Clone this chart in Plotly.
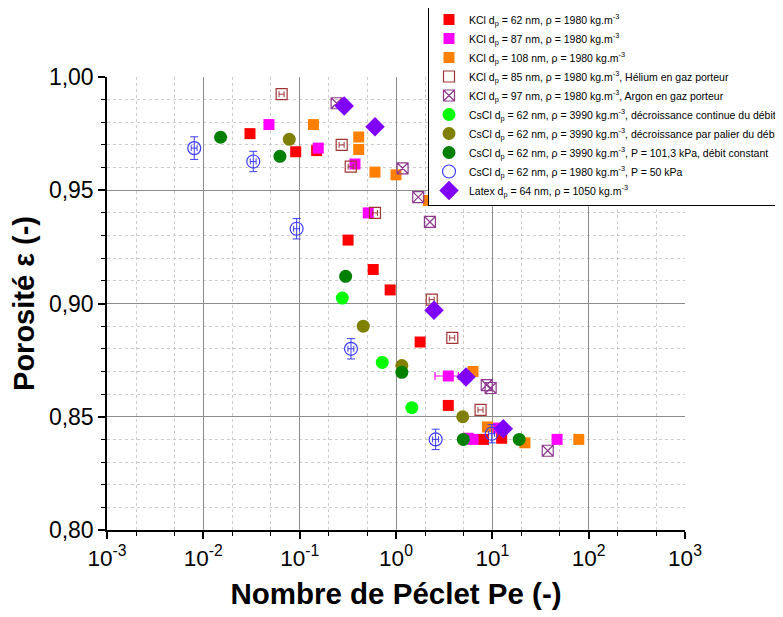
import plotly.graph_objects as go

# ---- data ----
kcl62_x = [0.0305, 0.091, 0.15, 0.318, 0.58, 0.87, 1.78, 3.49, 8.1, 12.5]
kcl62_y = [0.975, 0.967, 0.9675, 0.928, 0.915, 0.906, 0.883, 0.855, 0.840, 0.8405]

kcl87_x = [0.048, 0.156, 0.375, 0.515, 3.49, 5.6, 6.3, 11.5, 47]
kcl87_y = [0.979, 0.9686, 0.9616, 0.940, 0.868, 0.8405, 0.840, 0.845, 0.840]
kcl87_errx = [0, 0, 0, 0, 0.95, 0, 0, 0, 0]

kcl108_x = [0.139, 0.41, 0.41, 0.605, 1.0, 2.17, 6.3, 8.9, 21.8, 79]
kcl108_y = [0.979, 0.9735, 0.968, 0.958, 0.9568, 0.9455, 0.870, 0.8455, 0.8385, 0.840]

he_x = [0.065, 0.273, 0.339, 0.605, 2.35, 3.84, 7.55]
he_y = [0.9924, 0.970, 0.9604, 0.940, 0.9017, 0.8848, 0.853]

ar_x = [0.242, 1.17, 1.7, 2.25, 8.75, 9.6, 37.6]
ar_y = [0.9884, 0.9597, 0.947, 0.936, 0.864, 0.8627, 0.835]

cscl_cont_x = [0.277, 0.72, 1.46]
cscl_cont_y = [0.9024, 0.874, 0.854]

cscl_pal_x = [0.078, 0.457, 1.15, 4.93]
cscl_pal_y = [0.9725, 0.890, 0.8726, 0.850]

cscl_cst_x = [0.0151, 0.0624, 0.30, 1.15, 5.0, 19]
cscl_cst_y = [0.9734, 0.965, 0.912, 0.8696, 0.840, 0.840]

cscl50_x = [0.00805, 0.033, 0.093, 0.341, 2.58, 9.85]
cscl50_y = [0.9686, 0.9627, 0.933, 0.880, 0.840, 0.8425]
cscl50_erry = [0.005, 0.0045, 0.0045, 0.0045, 0.0045, 0.004]

latex_x = [0.29, 0.605, 2.48, 5.33, 13]
latex_y = [0.9872, 0.978, 0.897, 0.8676, 0.8447]

x_tickvals = [1e-3, 1e-2, 1e-1, 1, 10, 100, 1000]
x_ticktext = ["10<sup>-3</sup>", "10<sup>-2</sup>", "10<sup>-1</sup>", "10<sup>0</sup>",
              "10<sup>1</sup>", "10<sup>2</sup>", "10<sup>3</sup>"]
y_tickvals = [0.80, 0.85, 0.90, 0.95, 1.00]
y_ticktext = ["0,80", "0,85", "0,90", "0,95", "1,00"]

KG = "kg.m<sup>-3</sup>"
DP = "d<sub>p</sub>"

fig = go.Figure()

def add(x, y, name, symbol, color, size, open_=False, **kw):
    marker = dict(symbol=symbol, size=size, color=color)
    if open_:
        marker["line"] = dict(color=color, width=1.2)
    else:
        marker["line"] = dict(width=0)
    fig.add_trace(go.Scatter(x=x, y=y, mode="markers", name=name, marker=marker, **kw))

add(kcl62_x, kcl62_y, f"KCl {DP} = 62 nm, ρ = 1980 {KG}", "square", "#FF0000", 11)
add(kcl87_x, kcl87_y, f"KCl {DP} = 87 nm, ρ = 1980 {KG}", "square", "#FF00FF", 11,
    error_x=dict(type="data", array=kcl87_errx, color="#FF00FF", thickness=1.2, width=4))
add(kcl108_x, kcl108_y, f"KCl {DP} = 108 nm, ρ = 1980 {KG}", "square", "#FF8000", 11)
add(he_x, he_y, f"KCl {DP} = 85 nm, ρ = 1980 {KG}, Hélium en gaz porteur", "square-open", "#A03535", 11, open_=True,
    error_x=dict(type="percent", value=6, color="#A03535", thickness=1, width=3))
add(ar_x, ar_y, f"KCl {DP} = 97 nm, ρ = 1980 {KG}, Argon en gaz porteur", "square-x-open", "#8E3A8E", 11, open_=True)
add(cscl_cont_x, cscl_cont_y, f"CsCl {DP} = 62 nm, ρ = 3990 {KG}, décroissance continue du débit", "circle", "#00FF00", 13)
add(cscl_pal_x, cscl_pal_y, f"CsCl {DP} = 62 nm, ρ = 3990 {KG}, décroissance par palier du débit", "circle", "#808000", 13)
add(cscl_cst_x, cscl_cst_y, f"CsCl {DP} = 62 nm, ρ = 3990 {KG}, P = 101,3 kPa, débit constant", "circle", "#008000", 13)
add(cscl50_x, cscl50_y, f"CsCl {DP} = 62 nm, ρ = 1980 {KG}, P = 50 kPa", "circle-open", "#3C3CFF", 13, open_=True,
    error_y=dict(type="data", array=cscl50_erry, color="#3C3CFF", thickness=1, width=4),
    error_x=dict(type="percent", value=7, color="#3C3CFF", thickness=1, width=3))
add(latex_x, latex_y, f"Latex {DP} = 64 nm, ρ = 1050 {KG}", "diamond", "#8000FF", 15)

# page has an 8px body margin: compensate so the plot lands at the reference pixels
ML, MR, MT, MB = 99, 106, 69, 95
PW = 783 - ML - MR
PH = 617 - MT - MB

fig.update_layout(
    width=783, height=617,
    margin=dict(l=ML, r=MR, t=MT, b=MB, autoexpand=False),
    paper_bgcolor="white", plot_bgcolor="white",
    font=dict(family="Arial, Liberation Sans, sans-serif", color="black"),
    legend=dict(
        x=(428 - 8 - ML) / PW, y=1 + (MT + 4) / PH, xanchor="left", yanchor="top",
        bgcolor="white", bordercolor="black", borderwidth=1,
        font=dict(size=10.5, family="Arial, Liberation Sans, sans-serif"),
        tracegroupgap=0,
    ),
)

fig.update_xaxes(
    type="log", range=[-3, 3],
    tickvals=x_tickvals, ticktext=x_ticktext,
    tickfont=dict(size=22.5),
    showline=True, linecolor="black", linewidth=1.5, mirror=False,
    ticks="outside", ticklen=7, tickcolor="black", tickwidth=1.5,
    showgrid=True, gridcolor="#8c8c8c", gridwidth=1,
    minor=dict(ticks="outside", ticklen=4, tickcolor="black", tickwidth=1,
               showgrid=True, gridcolor="#cccccc", griddash="3px,3px", gridwidth=1),
    title=dict(text="<b>Nombre de Péclet Pe (-)</b>", font=dict(size=29.5), standoff=14),
    zeroline=False,
)
fig.update_yaxes(
    range=[0.80, 1.00],
    tickvals=y_tickvals, ticktext=y_ticktext,
    tickfont=dict(size=23),
    showline=True, linecolor="black", linewidth=1.5, mirror=False,
    ticks="outside", ticklen=7, tickcolor="black", tickwidth=1.5,
    showgrid=True, gridcolor="#8c8c8c", gridwidth=1,
    minor=dict(dtick=0.01, ticks="outside", ticklen=4, tickcolor="black", tickwidth=1,
               showgrid=True, gridcolor="#cccccc", griddash="3px,3px", gridwidth=1),
    title=dict(text="<b>Porosité ε (-)</b>", font=dict(size=29), standoff=6),
    zeroline=False,
)

fig.write_html("out.html")
